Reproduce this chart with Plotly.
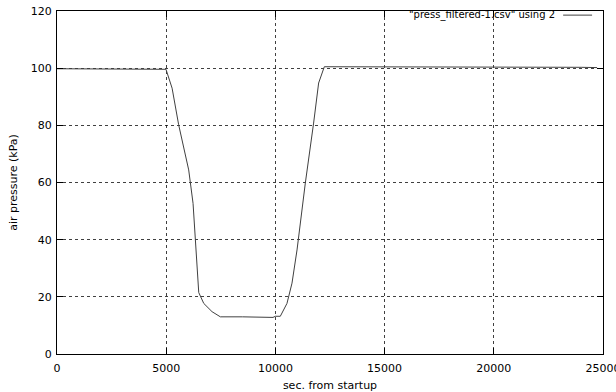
import plotly.graph_objects as go

# Data
time_s = [0, 1000, 2000, 3000, 4000, 4990, 5270, 5570, 6030, 6230, 6490, 6720,
          7100, 7480, 8500, 9890, 10000, 10225, 10530, 10760, 10990, 11370,
          11750, 11980, 12240, 13000, 13800, 14000, 16000, 18000, 20000,
          22000, 24000, 24730]
pressure_kpa = [99.8, 99.8, 99.7, 99.7, 99.7, 99.6, 93.0, 80.2, 64.4, 52.7, 21.5,
                17.7, 14.8, 13.0, 13.0, 12.8, 13.2, 13.2, 17.7, 24.8, 36.4, 59.8,
                80.8, 94.8, 100.5, 100.5, 100.4, 100.3, 100.3, 100.3, 100.3,
                100.3, 100.3, 100.2]
x_ticks = [0, 5000, 10000, 15000, 20000, 25000]
y_ticks = [0, 20, 40, 60, 80, 100, 120]
series_name = '"press_filtered-1.csv" using 2'

font = "DejaVu Sans, sans-serif"

fig = go.Figure()
fig.add_trace(go.Scatter(x=time_s, y=pressure_kpa, mode="lines",
                         line=dict(color="#404040", width=1),
                         name=series_name, showlegend=False))

axis_common = dict(
    showline=True, linecolor="black", linewidth=1, mirror="allticks",
    ticks="inside", ticklen=6, tickcolor="black", tickwidth=1,
    showgrid=True, gridcolor="rgba(0,0,0,0.75)", griddash="dot", gridwidth=1,
    zeroline=False, tickfont=dict(family=font, size=11, color="black"),
    automargin=False, ticklabeloverflow="allow",
)

fig.update_xaxes(range=[0, 25000], tickvals=x_ticks,
                 ticktext=[str(v) for v in x_ticks],
                 ticklabelstandoff=4,
                 title=dict(text="sec. from startup",
                            font=dict(family=font, size=11, color="black"),
                            standoff=14),
                 **axis_common)
fig.update_yaxes(range=[0, 120], tickvals=y_ticks,
                 ticktext=[str(v) for v in y_ticks],
                 ticklabelstandoff=2,
                 title=dict(text="air pressure (kPa)",
                            font=dict(family=font, size=11, color="black"),
                            standoff=10),
                 **axis_common)

# gnuplot-style key: text with line sample on its right
fig.add_annotation(xref="paper", yref="paper", x=0.916, y=0.988,
                   xanchor="right", yanchor="middle", showarrow=False,
                   text=series_name,
                   font=dict(family=font, size=10, color="black"))
fig.add_shape(type="line", xref="paper", yref="paper",
              x0=0.927, x1=0.98, y0=0.988, y1=0.988,
              line=dict(color="#404040", width=1))

fig.update_layout(width=616, height=392, autosize=False,
                  margin=dict(l=57, r=13, t=11, b=38, autoexpand=False),
                  paper_bgcolor="white", plot_bgcolor="white",
                  showlegend=False)

fig.write_html("out.html", config={"displayModeBar": False},
               post_script="document.body.style.margin='0';")
